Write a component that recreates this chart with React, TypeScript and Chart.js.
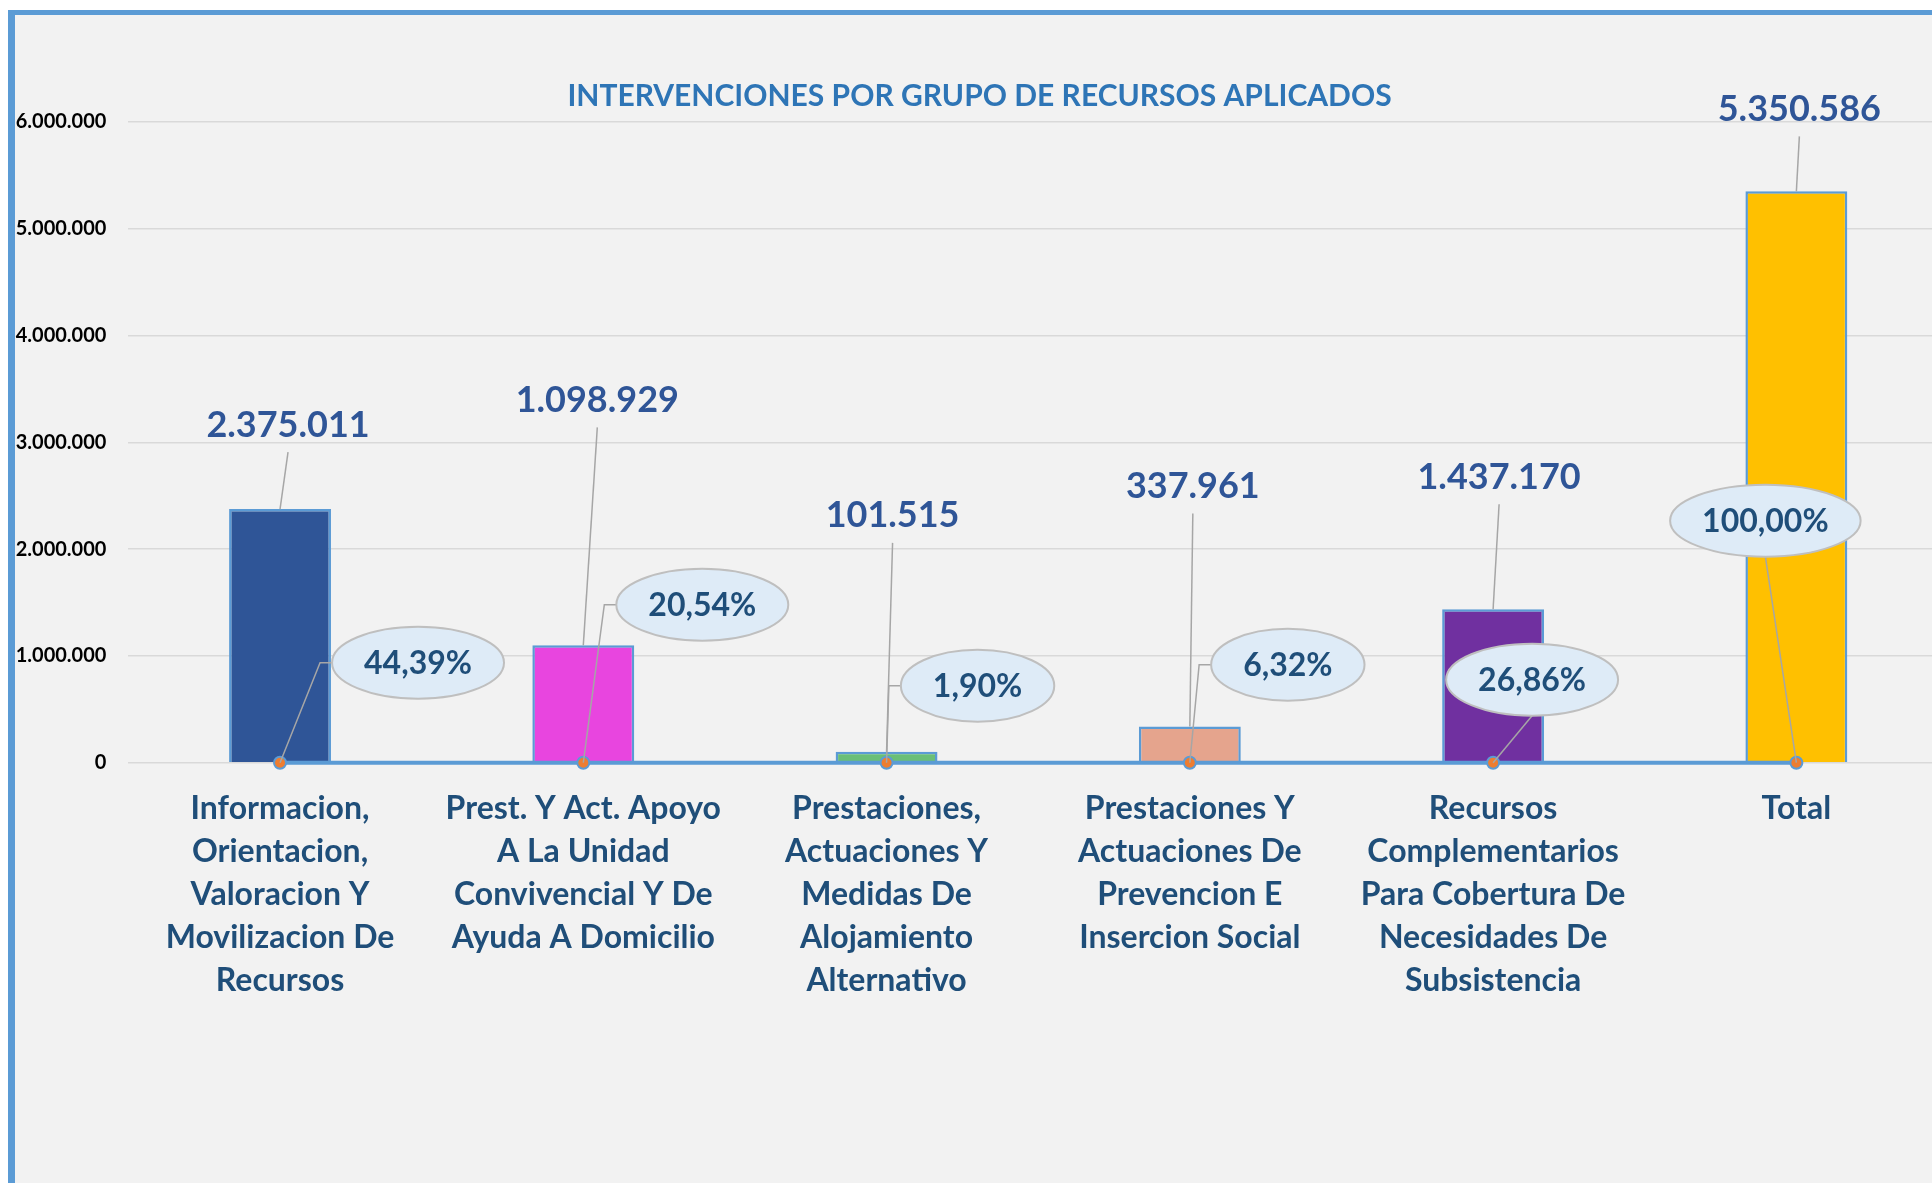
import React, { useEffect, useRef } from 'react';
import { Chart, registerables } from 'chart.js';

Chart.register(...registerables);

// ---------- DATA ----------
const TITLE = 'INTERVENCIONES POR GRUPO DE RECURSOS APLICADOS';

const categories: string[][] = [
  ['Informacion,', 'Orientacion,', 'Valoracion Y', 'Movilizacion De', 'Recursos'],
  ['Prest. Y Act. Apoyo', 'A La Unidad', 'Convivencial Y De', 'Ayuda A Domicilio'],
  ['Prestaciones,', 'Actuaciones Y', 'Medidas De', 'Alojamiento', 'Alternativo'],
  ['Prestaciones Y', 'Actuaciones De', 'Prevencion E', 'Insercion Social'],
  ['Recursos', 'Complementarios', 'Para Cobertura De', 'Necesidades De', 'Subsistencia'],
  ['Total'],
];

const interventions: number[] = [2375011, 1098929, 101515, 337961, 1437170, 5350586];
const percentages: number[] = [44.39, 20.54, 1.9, 6.32, 26.86, 100.0];
const yTicks: number[] = [0, 1000000, 2000000, 3000000, 4000000, 5000000, 6000000];

// ---------- STYLE / LAYOUT ----------
const barColors = ['#2f5597', '#e845df', '#6abf77', '#e5a48d', '#7030a0', '#ffc000'];
const FONT = 'Lato, "Open Sans", sans-serif';
const CANVAS_W = 1941;
const CANVAS_H = 1185;
const TITLE_POS = { x: 964.5, y: 81 };
// label placement offsets (px) relative to bar top / line point
const valueLabelOffsets: [number, number][] = [[8, -84], [14, -245], [6, -236], [3, -240], [6, -132], [3, -82]];
const pctLabelOffsets: [number, number][] = [[138, -100], [119, -158], [91, -77], [98, -98], [39, -83], [-31, -242]];
const pctLeaderSide: boolean[] = [true, true, true, true, false, false];

const fmtThousands = (n: number) => String(Math.round(n)).replace(/\B(?=(\d{3})+(?!\d))/g, '.');
const fmtPct = (n: number) => n.toFixed(2).replace('.', ',') + '%';

const labelsPlugin = {
  id: 'customLabels',
  afterDatasetsDraw(chart: any) {
    const ctx = chart.ctx as CanvasRenderingContext2D;
    const bars = chart.getDatasetMeta(0).data;
    const pts = chart.getDatasetMeta(1).data;
    ctx.save();

    // title
    ctx.font = `bold 30px ${FONT}`;
    ctx.fillStyle = '#2e75b6';
    ctx.textAlign = 'center';
    ctx.textBaseline = 'middle';
    ctx.fillText(TITLE, TITLE_POS.x, TITLE_POS.y);

    // value labels
    bars.forEach((bar: any, i: number) => {
      const x = bar.x;
      const y = bar.y;
      const lx = x + valueLabelOffsets[i][0];
      const ly = y + valueLabelOffsets[i][1];
      ctx.strokeStyle = '#a6a6a6';
      ctx.lineWidth = 1.5;
      ctx.beginPath();
      ctx.moveTo(lx, ly + 27);
      ctx.lineTo(x, y);
      ctx.stroke();
      ctx.font = `bold 36px ${FONT}`;
      ctx.fillStyle = '#2f5597';
      ctx.textAlign = 'center';
      ctx.textBaseline = 'middle';
      ctx.fillText(fmtThousands(interventions[i]), lx, ly);
    });

    // percentage callouts
    pts.forEach((pt: any, i: number) => {
      const x = pt.x;
      const y = pt.y;
      const cx = x + pctLabelOffsets[i][0];
      const cy = y + pctLabelOffsets[i][1];
      const text = fmtPct(percentages[i]);
      ctx.font = `bold 32px ${FONT}`;
      const tw = ctx.measureText(text).width;
      const rx = tw / 2 + 32;
      const ry = 36;
      ctx.strokeStyle = '#a6a6a6';
      ctx.lineWidth = 1.5;
      ctx.beginPath();
      if (pctLeaderSide[i]) {
        ctx.moveTo(cx - rx, cy);
        ctx.lineTo(cx - rx - 12, cy);
        ctx.lineTo(x, y);
      } else {
        ctx.moveTo(cx, cy + ry);
        ctx.lineTo(x, y);
      }
      ctx.stroke();
      ctx.beginPath();
      ctx.ellipse(cx, cy, rx, ry, 0, 0, Math.PI * 2);
      ctx.fillStyle = '#deebf7';
      ctx.fill();
      ctx.strokeStyle = '#bfbfbf';
      ctx.lineWidth = 2;
      ctx.stroke();
      ctx.fillStyle = '#1f4e79';
      ctx.textAlign = 'center';
      ctx.textBaseline = 'middle';
      ctx.fillText(text, cx, cy + 1);
    });

    ctx.restore();
  },
};

export default function App() {
  const canvasRef = useRef<HTMLCanvasElement | null>(null);

  useEffect(() => {
    const canvas = canvasRef.current;
    if (!canvas) return;
    const chart = new Chart(canvas, {
      type: 'bar',
      data: {
        labels: categories,
        datasets: [
          {
            type: 'bar',
            label: 'Intervenciones',
            data: interventions,
            backgroundColor: barColors,
            borderColor: '#5b9bd5',
            borderWidth: 2.5,
            barPercentage: 1,
            categoryPercentage: 0.336,
            order: 1,
          } as any,
          {
            type: 'line',
            label: '%',
            data: percentages,
            borderColor: '#5b9bd5',
            borderWidth: 4,
            pointBackgroundColor: '#ed7d31',
            pointBorderColor: '#5b9bd5',
            pointBorderWidth: 2,
            pointRadius: 6,
            clip: false,
            order: 0,
          } as any,
        ],
      },
      options: {
        responsive: false,
        animation: false,
        devicePixelRatio: 1,
        layout: { padding: { left: 0, right: 4.4, top: 107, bottom: 0 } },
        plugins: {
          legend: { display: false },
          tooltip: { enabled: false },
          title: { display: false },
        },
        scales: {
          x: {
            grid: { display: false, drawTicks: false },
            border: { display: false },
            ticks: {
              color: '#1f4e79',
              font: { family: FONT, size: 32, weight: 'bold', lineHeight: 43 / 32 },
              padding: 24,
              maxRotation: 0,
              autoSkip: false,
            },
            afterFit: (s: any) => {
              s.height = 437.3;
            },
          },
          y: {
            min: 0,
            max: 6000000,
            afterBuildTicks: (s: any) => {
              s.ticks = yTicks.map((v) => ({ value: v }));
            },
            grid: { color: '#d9d9d9', lineWidth: 1.5, drawTicks: false },
            border: { display: false },
            ticks: {
              color: '#000000',
              font: { family: FONT, size: 20, weight: 'bold' },
              padding: 22,
              callback: (v: any) => fmtThousands(Number(v)),
            },
            afterFit: (s: any) => {
              s.width = 113.4;
            },
          },
        },
      } as any,
      plugins: [labelsPlugin],
    });
    return () => chart.destroy();
  }, []);

  return (
    <div
      style={{
        position: 'fixed',
        left: 0,
        top: 0,
        width: 1932,
        height: 1183,
        overflow: 'hidden',
        background: '#ffffff',
      }}
    >
      <div
        style={{
          position: 'absolute',
          left: 8,
          top: 10,
          width: 2000,
          height: 1300,
          background: '#f2f2f2',
          borderTop: '5px solid #5b9bd5',
          borderLeft: '7px solid #5b9bd5',
        }}
      >
        <canvas
          ref={canvasRef}
          width={CANVAS_W}
          height={CANVAS_H}
          style={{ position: 'absolute', left: 0, top: 0, width: CANVAS_W, height: CANVAS_H }}
        />
      </div>
    </div>
  );
}
